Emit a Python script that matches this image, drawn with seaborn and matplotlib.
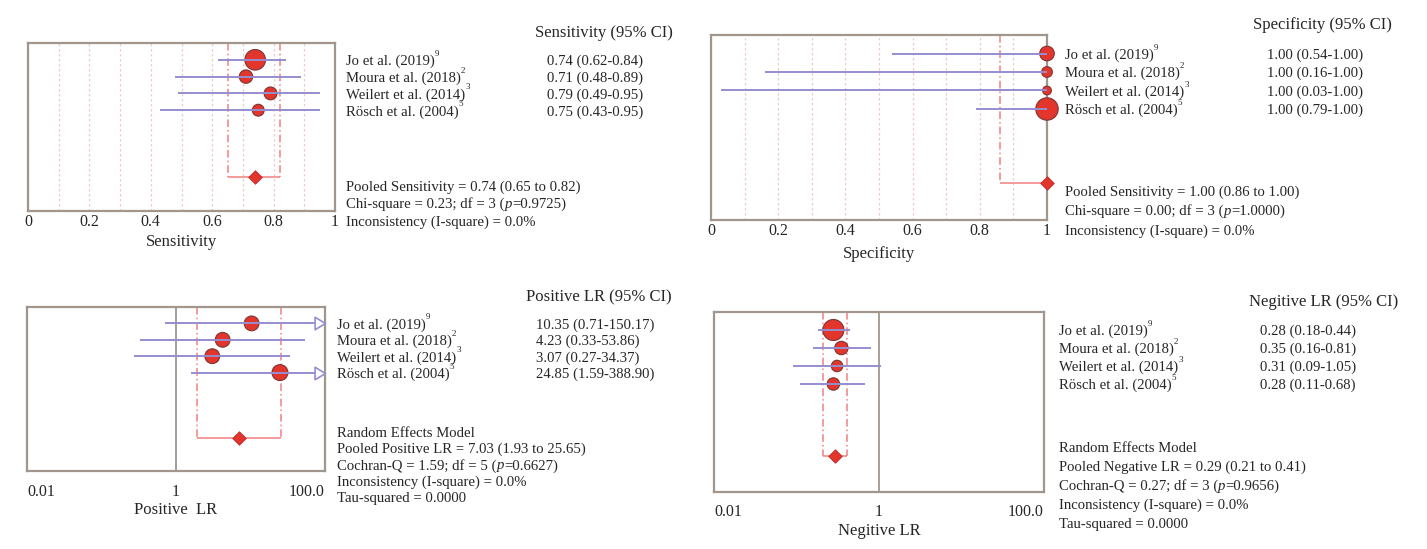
import numpy as np
import pandas as pd
import matplotlib
matplotlib.use("Agg")
import matplotlib.pyplot as plt
import matplotlib.transforms as mtransforms
from matplotlib.path import Path
import seaborn as sns

sns.set_theme(style="white")
plt.rcParams["font.family"] = ["Liberation Serif", "DejaVu Serif"]

# ---- data ----
studies = ["Jo et al. (2019)", "Moura et al. (2018)", "Weilert et al. (2014)", "Rösch et al. (2004)"]
refs = ["9", "2", "3", "5"]

sens_est = [0.74, 0.71, 0.79, 0.75]
sens_lo = [0.62, 0.48, 0.49, 0.43]
sens_hi = [0.84, 0.89, 0.95, 0.95]
sens_weight = [46.7, 19.7, 18.2, 15.4]
sens_pooled = [0.74, 0.65, 0.82]

spec_est = [1.00, 1.00, 1.00, 1.00]
spec_lo = [0.54, 0.16, 0.03, 0.79]
spec_hi = [1.00, 1.00, 1.00, 1.00]
spec_weight = [23.5, 12.7, 8.5, 55.3]
spec_pooled = [1.00, 0.86, 1.00]

plr_est = [10.35, 4.23, 3.07, 24.85]
plr_lo = [0.71, 0.33, 0.27, 1.59]
plr_hi = [150.17, 53.86, 34.37, 388.90]
plr_weight = [24, 24, 24, 28]
plr_pooled = [7.03, 1.93, 25.65]

nlr_est = [0.28, 0.35, 0.31, 0.28]
nlr_lo = [0.18, 0.16, 0.09, 0.11]
nlr_hi = [0.44, 0.81, 1.05, 0.68]
nlr_weight = [48.7, 19.7, 14.5, 17.0]
nlr_pooled = [0.29, 0.21, 0.41]

# ---- styling ----
RED = "#e2352c"
EDGE = "#7d3434"
LAV = "#958ed0"
DASH = "#f27f7f"
SPINE = "#a0968e"
GRID = "#ecccc6"
K = 4.7
FS = 10.6

W, H = 1427, 549
fig = plt.figure(figsize=(W / 100, H / 100), dpi=100)
renderer = fig.canvas.get_renderer()


def px_axes(l, t, r, b):
    return fig.add_axes([l / W, 1 - b / H, (r - l) / W, (b - t) / H])


def draw_forest(ax, est, lo, hi, weight, pooled, xlim, log):
    if log:
        ax.set_xscale("log")
    ax.set_xlim(xlim)
    ax.set_ylim(10, 0)
    rows = np.arange(1, len(est) + 1)
    pooled_row = 8
    df = pd.DataFrame({"est": est, "row": rows, "w": weight})
    sns.scatterplot(data=df, x="est", y="row", size="w",
                    sizes=(min(weight) * K, max(weight) * K),
                    size_norm=(min(weight), max(weight)),
                    color=RED, edgecolor=EDGE, linewidth=0.8,
                    legend=False, ax=ax, zorder=3, clip_on=False)
    hi_c = np.minimum(hi, xlim[1])
    ax.hlines(rows, lo, hi_c, color=LAV, lw=1.4, zorder=4)
    over = [r for r, h in zip(rows, hi) if h > xlim[1]]
    if over:
        tip = Path([(0, 0), (-1, 0.6), (-1, -0.6), (0, 0)],
                   [Path.MOVETO, Path.LINETO, Path.LINETO, Path.CLOSEPOLY])
        ax.plot([xlim[1]] * len(over), over, ls="none", marker=tip, ms=15,
                mfc="white", mec=LAV, mew=1.2, zorder=5, clip_on=False)
    # pooled estimate bracket
    ax.vlines(pooled[1:], 0, pooled_row, color=DASH, linestyles=(0, (5, 2, 1, 2)), lw=1.1, zorder=2)
    ax.hlines(pooled_row, pooled[1], pooled[2], color=DASH, lw=1.1, zorder=2)
    sns.scatterplot(x=[pooled[0]], y=[pooled_row], marker="D", s=48, color=RED,
                    edgecolor="#c02020", linewidth=0.5, ax=ax, zorder=5, clip_on=False, legend=False)
    if log:
        ax.axvline(1, color=SPINE, lw=1.3, zorder=1)
        ax.set_xticks([0.01, 1, 100])
        ax.set_xticks([], minor=True)
        ax.set_xticklabels(["0.01", "1", "100.0"])
        labs = ax.get_xticklabels()
        labs[0].set_ha("left")
        labs[-1].set_ha("right")
        ax.tick_params(axis="x", length=0, pad=9, labelsize=11.5)
    else:
        ax.set_xticks(np.arange(0.1, 1.0, 0.1), minor=True)
        ax.set_xticks([0, 0.2, 0.4, 0.6, 0.8, 1.0])
        ax.set_xticklabels(["0", "0.2", "0.4", "0.6", "0.8", "1"])
        ax.xaxis.grid(True, which="both", color=GRID, ls=(0, (2, 2)), lw=0.9)
        ax.tick_params(axis="x", which="both", length=0, pad=2, labelsize=11.5)
    ax.set_yticks([])
    ax.set_ylabel("")
    for s in ax.spines.values():
        s.set_color(SPINE)
        s.set_linewidth(1.6)
        s.set_visible(True)


def segments(ax, x_px, y, parts):
    """Write pieces of text one after another; parts = [(text, style, size, raise_pt)]."""
    x = x_px
    for txt, style, size, rise in parts:
        tr = mtransforms.blended_transform_factory(fig.transFigure, ax.transData)
        if rise:
            tr = tr + mtransforms.ScaledTranslation(0, rise / 72, fig.dpi_scale_trans)
        t = fig.text(x / W, y, txt, transform=tr, va="center_baseline", ha="left",
                     fontsize=size, fontstyle=style)
        x = t.get_window_extent(renderer).x1


def stat_line(ax, x_px, y, before, after):
    segments(ax, x_px, y, [(before, "normal", FS, 0), ("p", "italic", FS, 0), (after, "normal", FS, 0)])


def side_text(ax, x_label, x_value, title, title_xy, est, lo, hi, footer, footer_rows):
    tr = mtransforms.blended_transform_factory(fig.transFigure, ax.transData)
    for i, (name, ref) in enumerate(zip(studies, refs)):
        segments(ax, x_label, i + 1, [(name, "normal", FS, 0), (ref, "normal", 6.5, 5)])
        fig.text(x_value / W, i + 1, f"{est[i]:.2f} ({lo[i]:.2f}-{hi[i]:.2f})",
                 transform=tr, va="center_baseline", ha="left", fontsize=FS)
    fig.text(title_xy[0] / W, 1 - title_xy[1] / H, title, ha="right", va="center", fontsize=12)
    for line, r in zip(footer, footer_rows):
        if isinstance(line, tuple):
            stat_line(ax, x_label, r, *line)
        else:
            fig.text(x_label / W, r, line, transform=tr, va="center_baseline", ha="left", fontsize=FS)


# Sensitivity
ax1 = px_axes(28, 43, 335, 211)
draw_forest(ax1, sens_est, sens_lo, sens_hi, sens_weight, sens_pooled, (0, 1), False)
ax1.set_xlabel("Sensitivity", fontsize=12, labelpad=3)
side_text(ax1, 346, 547, "Sensitivity (95% CI)", (673, 33), sens_est, sens_lo, sens_hi,
          [f"Pooled Sensitivity = {sens_pooled[0]:.2f} ({sens_pooled[1]:.2f} to {sens_pooled[2]:.2f})",
           ("Chi-square = 0.23; df = 3 (", "=0.9725)"),
           "Inconsistency (I-square) = 0.0%"],
          [8.5, 9.5, 10.6])

# Specificity
ax2 = px_axes(711, 35, 1047, 220)
draw_forest(ax2, spec_est, spec_lo, spec_hi, spec_weight, spec_pooled, (0, 1), False)
ax2.set_xlabel("Specificity", fontsize=12, labelpad=5)
side_text(ax2, 1065, 1267, "Specificity (95% CI)", (1392, 25), spec_est, spec_lo, spec_hi,
          [f"Pooled Sensitivity = {spec_pooled[0]:.2f} ({spec_pooled[1]:.2f} to {spec_pooled[2]:.2f})",
           ("Chi-square = 0.00; df = 3 (", "=1.0000)"),
           "Inconsistency (I-square) = 0.0%"],
          [8.4, 9.45, 10.5])

# Positive LR
ax3 = px_axes(27, 307, 325, 471)
draw_forest(ax3, plr_est, plr_lo, plr_hi, plr_weight, plr_pooled, (0.01, 100), True)
ax3.set_xlabel("Positive  LR", fontsize=12, labelpad=2)
side_text(ax3, 337, 536, "Positive LR (95% CI)", (672, 297), plr_est, plr_lo, plr_hi,
          ["Random Effects Model",
           f"Pooled Positive LR = {plr_pooled[0]:.2f} ({plr_pooled[1]:.2f} to {plr_pooled[2]:.2f})",
           ("Cochran-Q = 1.59; df = 5 (", "=0.6627)"),
           "Inconsistency (I-square) = 0.0%",
           "Tau-squared = 0.0000"],
          [7.6, 8.6, 9.6, 10.6, 11.6])

# Negative LR
ax4 = px_axes(714, 312, 1044, 492)
draw_forest(ax4, nlr_est, nlr_lo, nlr_hi, nlr_weight, nlr_pooled, (0.01, 100), True)
ax4.set_xlabel("Negitive LR", fontsize=12, labelpad=2)
side_text(ax4, 1059, 1260, "Negitive LR (95% CI)", (1398, 302), nlr_est, nlr_lo, nlr_hi,
          ["Random Effects Model",
           f"Pooled Negative LR = {nlr_pooled[0]:.2f} ({nlr_pooled[1]:.2f} to {nlr_pooled[2]:.2f})",
           ("Cochran-Q = 0.27; df = 3 (", "=0.9656)"),
           "Inconsistency (I-square) = 0.0%",
           "Tau-squared = 0.0000"],
          [7.5, 8.55, 9.6, 10.65, 11.7])

fig.savefig("out.png", dpi=100, facecolor="white")
